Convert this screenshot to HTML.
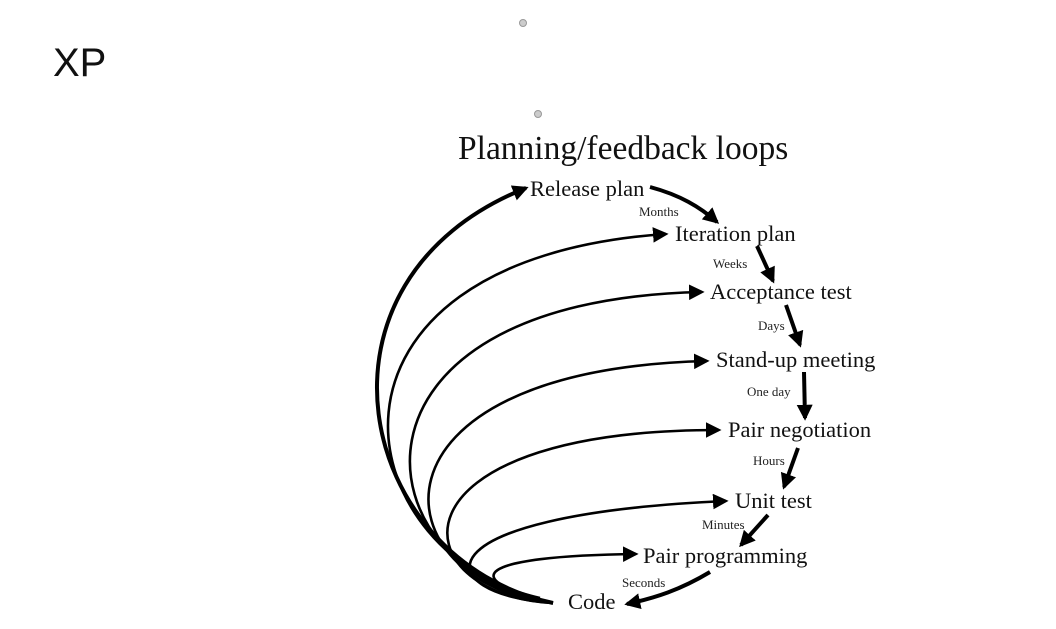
<!DOCTYPE html>
<html><head><style>
html,body{margin:0;padding:0;background:#fff;width:1056px;height:629px;overflow:hidden}
</style></head><body>
<svg width="1056" height="629" viewBox="0 0 1056 629" xmlns="http://www.w3.org/2000/svg">
<defs>
<marker id="a" markerWidth="6" markerHeight="6" refX="5" refY="3" orient="auto" markerUnits="strokeWidth">
<path d="M0,0 L6,3 L0,6 Z" fill="#000"/></marker>
<marker id="b" markerWidth="4" markerHeight="4" refX="3.3" refY="2" orient="auto" markerUnits="strokeWidth">
<path d="M0,0 L4,2 L0,4 Z" fill="#000"/></marker>
</defs>
<text x="53" y="76" font-family="Liberation Sans, sans-serif" font-size="40" fill="#111">XP</text>
<circle cx="523" cy="23" r="3.5" fill="#ccc" stroke="#999"/>
<circle cx="538" cy="114" r="3.5" fill="#ccc" stroke="#999"/>
<text x="458" y="159" font-family="Liberation Serif, serif" font-size="33.5" fill="#111">Planning/feedback loops</text>
<g fill="none" stroke="#000">
<path d="M553,603 C355,560 295,280 526,188" stroke-width="4" marker-end="url(#b)"/>
<path d="M553,603 C340,560 290,260 666,234" stroke-width="2.6" marker-end="url(#a)"/>
<path d="M553,603 C360,575 320,300 702,292" stroke-width="2.6" marker-end="url(#a)"/>
<path d="M553,603 C380,585 350,370 707,361" stroke-width="2.6" marker-end="url(#a)"/>
<path d="M553,603 C400,595 380,430 719,430" stroke-width="2.6" marker-end="url(#a)"/>
<path d="M553,603 C430,595 410,515 726,501" stroke-width="2.6" marker-end="url(#a)"/>
<path d="M540,598 C465,580 470,556 636,554" stroke-width="2.6" marker-end="url(#a)"/>
<path d="M650,187 C680,195 700,207 717,222" stroke-width="4" marker-end="url(#b)"/>
<path d="M757,246 L773,281" stroke-width="4" marker-end="url(#b)"/>
<path d="M786,305 L800,345" stroke-width="4" marker-end="url(#b)"/>
<path d="M804,372 L805,418" stroke-width="4" marker-end="url(#b)"/>
<path d="M798,448 L784,487" stroke-width="4" marker-end="url(#b)"/>
<path d="M768,515 L741,545" stroke-width="4" marker-end="url(#b)"/>
<path d="M710,572 C680,590 655,598 627,604" stroke-width="4" marker-end="url(#b)"/>
</g>
<g font-family="Liberation Serif, serif" font-size="22.5" fill="#111">
<text x="530" y="196">Release plan</text>
<text x="675" y="241">Iteration plan</text>
<text x="710" y="299">Acceptance test</text>
<text x="716" y="367">Stand-up meeting</text>
<text x="728" y="437">Pair negotiation</text>
<text x="735" y="508">Unit test</text>
<text x="643" y="563">Pair programming</text>
<text x="568" y="609">Code</text>
</g>
<g font-family="Liberation Serif, serif" font-size="13" fill="#222">
<text x="639" y="216">Months</text>
<text x="713" y="268">Weeks</text>
<text x="758" y="330">Days</text>
<text x="747" y="396">One day</text>
<text x="753" y="465">Hours</text>
<text x="702" y="529">Minutes</text>
<text x="622" y="587">Seconds</text>
</g>
</svg>
</body></html>
